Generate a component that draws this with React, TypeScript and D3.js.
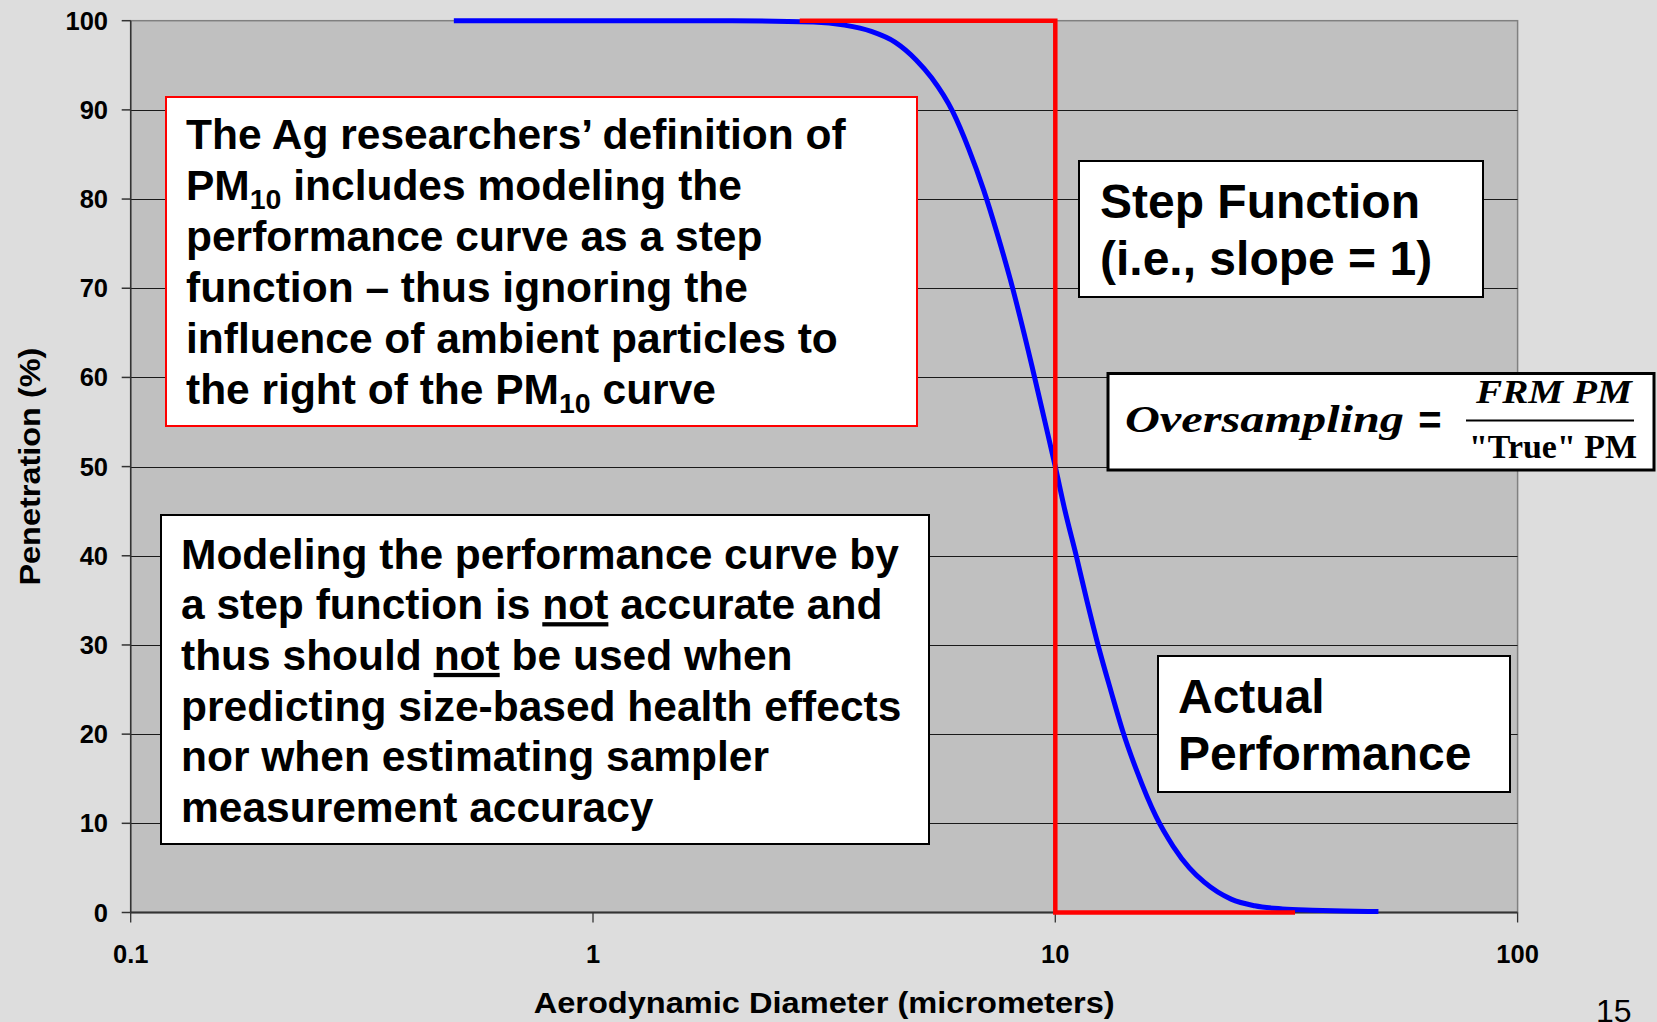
import React from 'react';
import * as d3 from 'd3';

// actual sampler performance
const diameters = [0.5, 2, 3, 3.5, 4, 4.5, 5, 5.4, 6, 6.5, 7, 7.5, 8, 8.9, 9.5, 10, 10.5, 11.1, 11.7, 12.4, 13.2, 14, 15, 16.5, 18, 19.5, 21, 24, 27, 31, 36, 42, 50];
const penetration = [100, 100, 99.85, 99.5, 98.8, 97.6, 95.6, 93.6, 89.8, 85.6, 81, 76, 70.9, 61.3, 55, 50, 45, 40, 35, 29.8, 24.8, 20.3, 15.9, 10.8, 7.4, 5, 3.4, 1.5, 0.75, 0.4, 0.25, 0.16, 0.1];

// idealised step function
const stepDiameters = [2.8, 10, 10, 33];
const stepPenetration = [100, 100, 0, 0];

const xTicks = [0.1, 1, 10, 100];
const xTickLabels = ['0.1', '1', '10', '100'];
const yTicks = [0, 10, 20, 30, 40, 50, 60, 70, 80, 90, 100];

const redBoxLines = [
  [{ t: 'The Ag researchers\u2019 definition of' }],
  [{ t: 'PM' }, { t: '10', sub: true }, { t: ' includes modeling the' }],
  [{ t: 'performance curve as a step' }],
  [{ t: 'function \u2013 thus ignoring the' }],
  [{ t: 'influence of ambient particles to' }],
  [{ t: 'the right of the PM' }, { t: '10', sub: true }, { t: ' curve' }],
];

const noteLines = [
  [{ t: 'Modeling the performance curve by' }],
  [{ t: 'a step function is ' }, { t: 'not', u: true }, { t: ' accurate and' }],
  [{ t: 'thus should ' }, { t: 'not', u: true }, { t: ' be used when' }],
  [{ t: 'predicting size-based health effects' }],
  [{ t: 'nor when estimating sampler' }],
  [{ t: 'measurement accuracy' }],
];

const W = 1657;
const H = 1022;
const SANS = '"Liberation Sans", Arial, Helvetica, sans-serif';
const SERIF = '"Liberation Serif", "DejaVu Serif", serif';

type Seg = { t: string; sub?: boolean; u?: boolean };

const Lines = ({ lines, x, y0, dy, size }: { lines: Seg[][]; x: number; y0: number; dy: number; size: number }) => (
  <text fontFamily={SANS} fontWeight="bold" fontSize={size} fill="#000">
    {lines.map((segs, i) => (
      <tspan key={i} x={x} y={y0 + i * dy}>
        {segs.map((s, j) =>
          s.sub ? (
            <tspan key={j} fontSize={size * 0.67} dy={9}>{s.t}</tspan>
          ) : (
            <tspan key={j} dy={j > 0 && segs[j - 1].sub ? -9 : 0} textDecoration={s.u ? 'underline' : undefined}>{s.t}</tspan>
          )
        )}
      </tspan>
    ))}
  </text>
);

export default function App() {
  const x = d3.scaleLog().domain([0.1, 100]).range([130.7, 1517.6]);
  const y = d3.scaleLinear().domain([0, 100]).range([912.5, 20.7]);

  const line = d3.line<number>()
    .x((_, i) => x(diameters[i]))
    .y((d) => y(d))
    .curve(d3.curveMonotoneX);

  const stepLine = d3.line<number>()
    .x((_, i) => x(stepDiameters[i]))
    .y((d) => y(d));

  const [x0, x1] = x.range();
  const [yb, yt] = y.range();

  return (
    <svg width={W} height={H} style={{ position: 'absolute', left: 0, top: 0, display: 'block' }}>
      <rect x={0} y={0} width={W} height={H} fill="#dddddd" />
      <rect x={x0} y={yt} width={x1 - x0} height={yb - yt} fill="#c0c0c0" stroke="#808080" strokeWidth={1.5} />

      {/* gridlines */}
      {yTicks.filter((t) => t > 0 && t < 100).map((t) => (
        <line key={t} x1={x0} x2={x1} y1={Math.round(y(t)) + 0.5} y2={Math.round(y(t)) + 0.5} stroke="#1a1a1a" strokeWidth={1} />
      ))}

      {/* axes */}
      <line x1={x0} x2={x0} y1={yt} y2={yb} stroke="#333" strokeWidth={1.5} />
      {yTicks.map((t) => (
        <g key={t}>
          <line x1={x0 - 9} x2={x0} y1={y(t)} y2={y(t)} stroke="#333" strokeWidth={1.5} />
          <text x={108} y={y(t) + 9} textAnchor="end" fontFamily={SANS} fontWeight="bold" fontSize={25.5}>{t}</text>
        </g>
      ))}
      <line x1={x0} x2={x1} y1={yb} y2={yb} stroke="#333" strokeWidth={2} />
      {xTicks.map((t, i) => (
        <g key={t}>
          <line x1={x(t)} x2={x(t)} y1={yb} y2={yb + 10} stroke="#333" strokeWidth={1.3} />
          <text x={x(t)} y={963} textAnchor="middle" fontFamily={SANS} fontWeight="bold" fontSize={25.5}>{xTickLabels[i]}</text>
        </g>
      ))}

      {/* series */}
      <path d={line(penetration) || ''} fill="none" stroke="#0000ff" strokeWidth={5} />
      <path d={stepLine(stepPenetration) || ''} fill="none" stroke="#ff0000" strokeWidth={4.5} />

      {/* axis titles */}
      <text x={(x0 + x1) / 2} y={1013} textAnchor="middle" fontFamily={SANS} fontWeight="bold" fontSize={29}
        textLength={581} lengthAdjust="spacingAndGlyphs">Aerodynamic Diameter (micrometers)</text>
      <text transform={`translate(40,${(yt + yb) / 2}) rotate(-90)`} textAnchor="middle" fontFamily={SANS} fontWeight="bold"
        fontSize={30} textLength={238} lengthAdjust="spacingAndGlyphs">Penetration (%)</text>

      {/* red definition box */}
      <rect x={166} y={97} width={751} height={329} fill="#fff" stroke="#ff0000" strokeWidth={2} />
      <Lines lines={redBoxLines} x={186} y0={148.5} dy={51} size={42.5} />

      {/* note box */}
      <rect x={161} y={515} width={768} height={329} fill="#fff" stroke="#000" strokeWidth={2} />
      <Lines lines={noteLines} x={181} y0={568.5} dy={50.7} size={42.5} />

      {/* step function label */}
      <rect x={1079} y={161} width={404} height={136} fill="#fff" stroke="#000" strokeWidth={2} />
      <Lines lines={[[{ t: 'Step Function' }], [{ t: '(i.e., slope = 1)' }]]} x={1100} y0={218} dy={57} size={48} />

      {/* actual performance label */}
      <rect x={1158} y={656} width={352} height={136} fill="#fff" stroke="#000" strokeWidth={2} />
      <Lines lines={[[{ t: 'Actual' }], [{ t: 'Performance' }]]} x={1178} y0={713} dy={57} size={48} />

      {/* oversampling formula */}
      <rect x={1108} y={373.5} width={546} height={96.5} fill="#fff" stroke="#000" strokeWidth={3} />
      <text x={1125} y={432} fontFamily={SERIF} fontStyle="italic" fontWeight="bold" fontSize={37}
        textLength={279} lengthAdjust="spacingAndGlyphs">Oversampling</text>
      <text x={1430} y={434} textAnchor="middle" fontFamily={SANS} fontWeight="bold" fontSize={40}>=</text>
      <line x1={1466} x2={1634} y1={420.5} y2={420.5} stroke="#000" strokeWidth={2} />
      <text x={1554} y={403} textAnchor="middle" fontFamily={SERIF} fontStyle="italic" fontWeight="bold" fontSize={34}
        textLength={156} lengthAdjust="spacingAndGlyphs">FRM PM</text>
      <text x={1553} y={458} textAnchor="middle" fontFamily={SERIF} fontWeight="bold" fontSize={34}
        textLength={168} lengthAdjust="spacingAndGlyphs">"True" PM</text>

      {/* slide number */}
      <text x={1596} y={1022} fontFamily={SANS} fontSize={32}>15</text>
    </svg>
  );
}
